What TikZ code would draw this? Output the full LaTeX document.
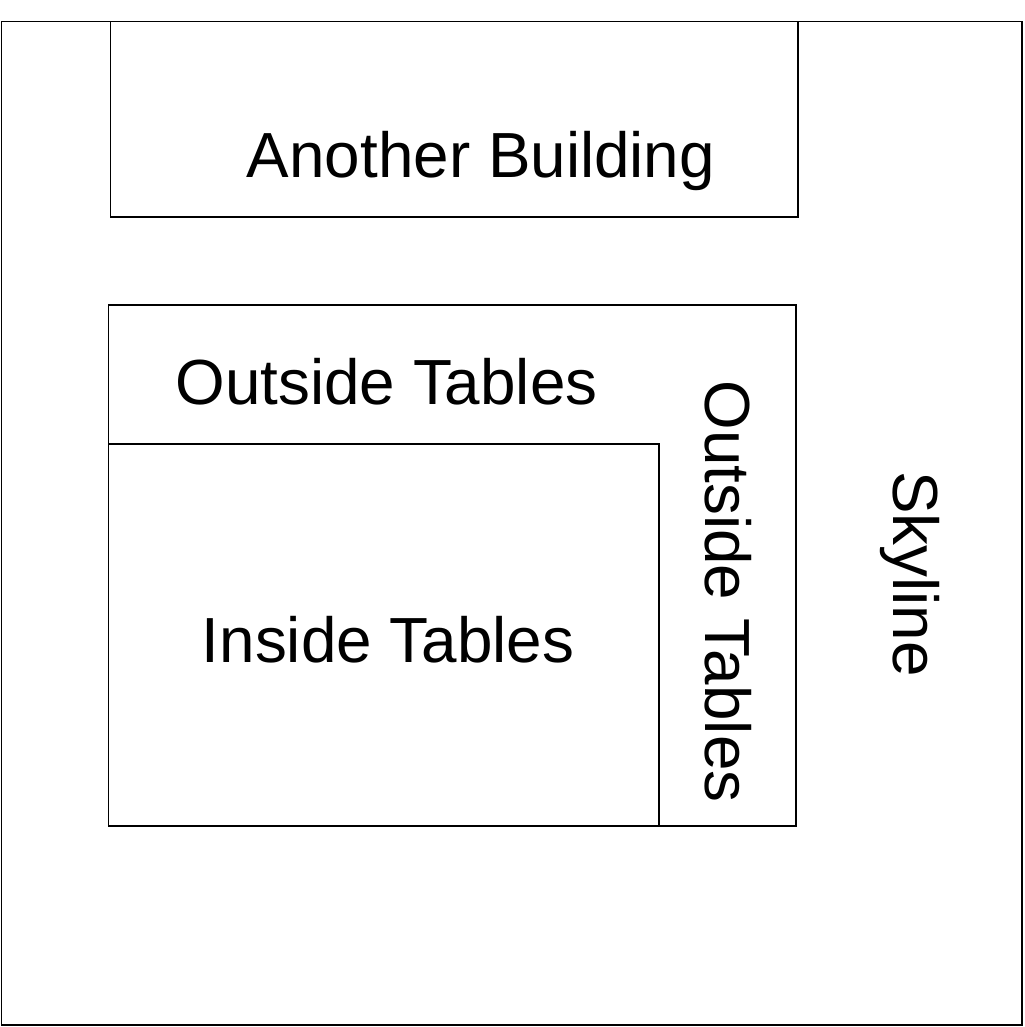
\documentclass[tikz,border=0pt]{standalone}
\usepackage{fontspec}
\setmainfont{Liberation Sans}
\usepackage{tikz}
\tikzset{
  wall/.style={
    draw,
    line width = 1.1pt
  },
  area/.style={
    anchor = base,
    inner sep = 0pt,
    font = \fontsize{36.3}{40}\selectfont
  },
}

\begin{document}
\begin{tikzpicture}[x=0.02cm, y=-0.02cm]
         \useasboundingbox (0,0) rectangle (1024,1027);

         % outer border and the two blocks
         \draw[wall] (1.5,21.5) rectangle (1022,1025);
         \draw[wall] (110.5,21.5) rectangle (798,217);
         \draw[wall] (108.5,305) rectangle (796,826);
         \draw[wall] (108.5,444) rectangle (659,826);

         \node[area] (another) at (481,178) {Another Building};
         \node[area] (outtop) at (386.5,404) {Outside Tables};
         \node[area] (inside) at (388,662) {Inside Tables};
         \node[area, rotate=-90] (outside) at (705,591.5) {Outside Tables};
         \node[area, rotate=-90] (skyline) at (893,574) {Skyline};
\end{tikzpicture}
\end{document}
